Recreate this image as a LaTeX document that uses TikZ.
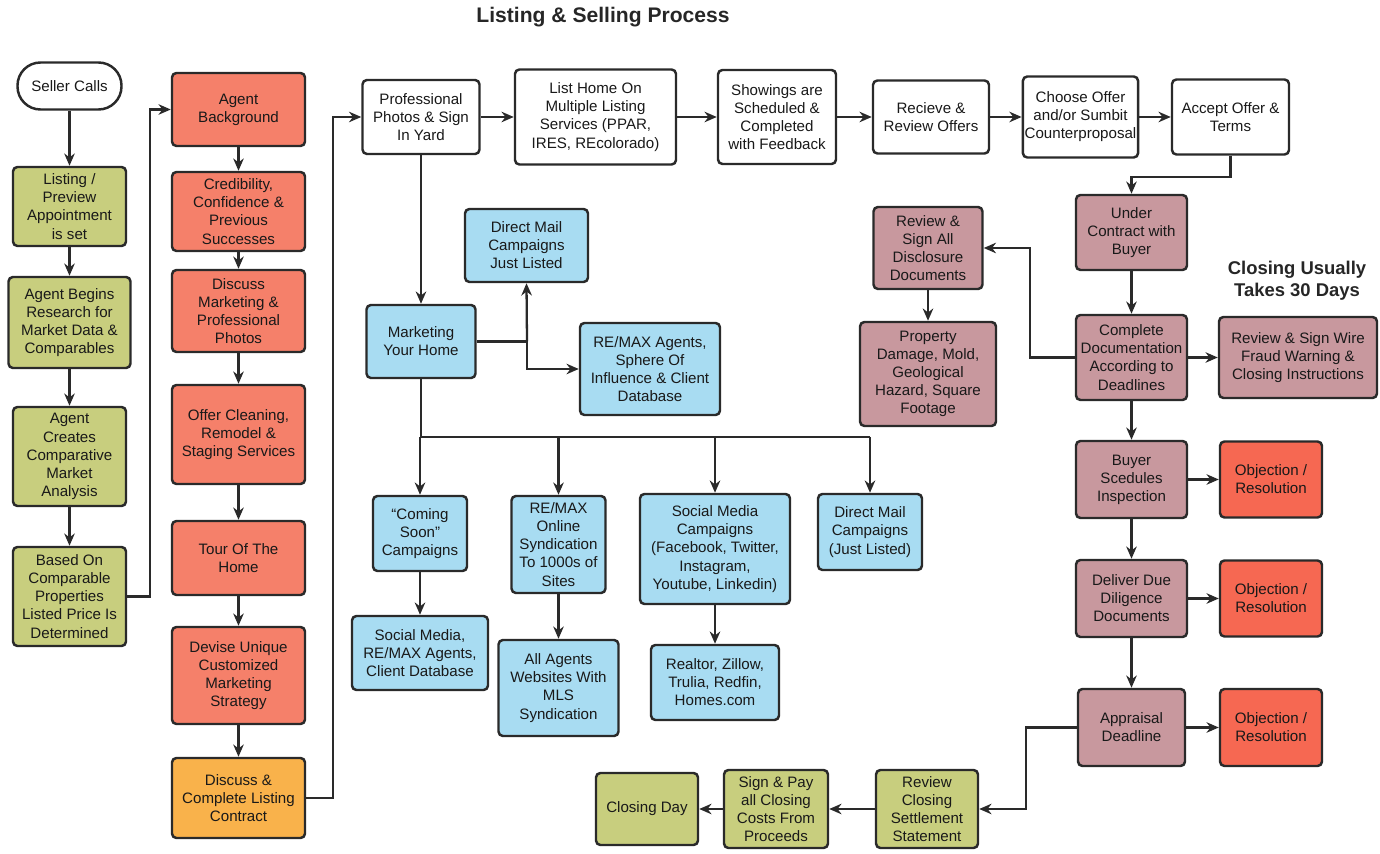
\documentclass[tikz,border=0pt]{standalone}
\usepackage{fontspec}
\setmainfont{Liberation Sans}
\usetikzlibrary{arrows.meta,positioning,calc}
\definecolor{prepgreen}{HTML}{C8CE7E}
\definecolor{agentred}{HTML}{F5806A}
\definecolor{contractorange}{HTML}{F9B24B}
\definecolor{mktblue}{HTML}{A8DCF2}
\definecolor{closemauve}{HTML}{C8989E}
\definecolor{objred}{HTML}{F66852}
\definecolor{linegray}{HTML}{2A2A2A}

\begin{document}
\begin{tikzpicture}[x=0.02cm, y=-0.02cm, line width=1.3pt, >={Stealth[length=7pt,width=6pt]},
  box/.style={draw=linegray, line width=1.4pt, rounded corners=2.5pt, align=center, inner sep=1pt, text=black!90, font=\fontsize{8.6}{10.3}\selectfont},
  wh/.style 2 args={minimum width=#1*0.02cm, minimum height=#2*0.02cm},
  start node/.style={box, fill=white, rounded corners=0.46cm},
  step node/.style={box, fill=white},
  prep node/.style={box, fill=prepgreen},
  agent node/.style={box, fill=agentred},
  contract node/.style={box, fill=contractorange},
  market node/.style={box, fill=mktblue},
  close node/.style={box, fill=closemauve},
  objection node/.style={box, fill=objred}]
\useasboundingbox (0,0) rectangle (1380,854);

\node[font=\fontsize{12}{14}\selectfont\bfseries, text=black!85] (title) at (603,17) {Listing \& Selling Process};
\node[font=\fontsize{10.5}{12.6}\selectfont\bfseries, text=black!85, align=center] (note) at (1297,281) {Closing Usually\\Takes 30 Days};

% seller preparation
\node[start node, wh={104}{47}] (seller) at (69.5,86) {Seller Calls};
\node[prep node, wh={113}{79}] (listing) at (69.5,206.5) {Listing /\\Preview\\Appointment\\is set};
\node[prep node, wh={122}{91}] (research) at (69.5,322.5) {Agent Begins\\Research for\\Market Data \&\\Comparables};
\node[prep node, wh={113}{99}] (cma) at (69.5,456.5) {Agent\\Creates\\Comparative\\Market\\Analysis};
\node[prep node, wh={113}{99}] (price) at (69.5,596.5) {Based On\\Comparable\\Properties\\Listed Price Is\\Determined};

% agent meeting
\node[agent node, wh={133}{73}] (background) at (238.5,109.5) {Agent\\Background};
\node[agent node, wh={133}{79}] (credibility) at (238.5,211.5) {Credibility,\\Confidence \&\\Previous\\Successes};
\node[agent node, wh={133}{82}] (discmkt) at (238.5,311) {Discuss\\Marketing \&\\Professional\\Photos};
\node[agent node, wh={133}{99}] (cleaning) at (238.5,434.5) {Offer Cleaning,\\Remodel \&\\Staging Services};
\node[agent node, wh={133}{74}] (tour) at (238.5,558) {Tour Of The\\Home};
\node[agent node, wh={133}{97}] (devise) at (238.5,675.5) {Devise Unique\\Customized\\Marketing\\Strategy};
\node[contract node, wh={133}{80}] (contract) at (238.5,798) {Discuss \&\\Complete Listing\\Contract};

% top row
\node[step node, wh={117}{74}] (photos) at (421,117) {Professional\\Photos \& Sign\\In Yard};
\node[step node, wh={161}{95}] (mls) at (595.5,117) {List Home On\\Multiple Listing\\Services (PPAR,\\IRES, REcolorado)};
\node[step node, wh={118}{94}] (showings) at (777,117) {Showings are\\Scheduled \&\\Completed\\with Feedback};
\node[step node, wh={116}{73}] (offers) at (931,117) {Recieve \&\\Review Offers};
\node[step node, wh={115}{81}] (counter) at (1080.5,117) {Choose Offer\\and/or Sumbit\\Counterproposal};
\node[step node, wh={117}{75}] (accept) at (1230.5,117) {Accept Offer \&\\Terms};

% marketing
\node[market node, wh={123}{73}] (mailjl) at (526.5,245.5) {Direct Mail\\Campaigns\\Just Listed};
\node[market node, wh={109}{73}] (marketing) at (421,341.5) {Marketing\\Your Home};
\node[market node, wh={140}{92}] (sphere) at (650,369) {RE/MAX Agents,\\Sphere Of\\Influence \& Client\\Database};
\node[market node, wh={94}{75}] (soon) at (420,533.5) {\textquotedblleft Coming\\Soon\textquotedblright\\Campaigns};
\node[market node, wh={94}{97}] (online) at (558.5,544.5) {RE/MAX\\Online\\Syndication\\To 1000s of\\Sites};
\node[market node, wh={150}{110}] (social) at (715,549) {Social Media\\Campaigns\\(Facebook, Twitter,\\Instagram,\\Youtube, Linkedin)};
\node[market node, wh={104}{76}] (mail) at (870,532) {Direct Mail\\Campaigns\\(Just Listed)};
\node[market node, wh={136}{74}] (socremax) at (420,653) {Social Media,\\RE/MAX Agents,\\Client Database};
\node[market node, wh={120}{96}] (allagents) at (558.5,688) {All Agents\\Websites With\\MLS\\Syndication};
\node[market node, wh={128}{75}] (realtor) at (715,682.5) {Realtor, Zillow,\\Trulia, Redfin,\\Homes.com};

% under contract
\node[close node, wh={109}{82}] (disclosure) at (928,248) {Review \&\\Sign All\\Disclosure\\Documents};
\node[close node, wh={136}{104}] (damage) at (928,374) {Property\\Damage, Mold,\\Geological\\Hazard, Square\\Footage};
\node[close node, wh={111}{75}] (undercontract) at (1131.5,232.5) {Under\\Contract with\\Buyer};
\node[close node, wh={111}{85}] (completedoc) at (1131.5,357.5) {Complete\\Documentation\\According to\\Deadlines};
\node[close node, wh={158}{81}] (wire) at (1298,357.5) {Review \& Sign Wire\\Fraud Warning \&\\Closing Instructions};
\node[close node, wh={111}{77}] (buyer) at (1131.5,479.5) {Buyer\\Scedules\\Inspection};
\node[close node, wh={111}{77}] (diligence) at (1131.5,598.5) {Deliver Due\\Diligence\\Documents};
\node[close node, wh={107}{77}] (appraisal) at (1131.5,727.5) {Appraisal\\Deadline};
\node[objection node, wh={102}{76}] (obja) at (1271,479.5) {Objection /\\Resolution};
\node[objection node, wh={102}{76}] (objb) at (1271,598.5) {Objection /\\Resolution};
\node[objection node, wh={102}{77}] (objc) at (1271,727.5) {Objection /\\Resolution};

% closing
\node[prep node, wh={102}{78}] (revclose) at (927,809) {Review\\Closing\\Settlement\\Statement};
\node[prep node, wh={104}{78}] (signpay) at (776,809) {Sign \& Pay\\all Closing\\Costs From\\Proceeds};
\node[prep node, wh={102}{72}] (closingday) at (647,809) {Closing Day};

\coordinate (loopA) at (150,0);
\coordinate (loopB) at (333,0);
\coordinate (mj) at (527,341.5);
\coordinate (trunk) at (421,437);
\coordinate (docj) at (1030,0);
\coordinate (apj) at (1026,0);

\begin{scope}[every edge/.style={draw=linegray, line width=1.3pt, ->}]
\draw (seller) edge (listing);
\draw (listing) edge (research);
\draw (research) edge (cma);
\draw (cma) edge (price);
\draw (background) edge (credibility);
\draw (credibility) edge (discmkt);
\draw (discmkt) edge (cleaning);
\draw (cleaning) edge (tour);
\draw (tour) edge (devise);
\draw (devise) edge (contract);
\draw (photos) edge (mls);
\draw (mls) edge (showings);
\draw (showings) edge (offers);
\draw (offers) edge (counter);
\draw (counter) edge (accept);
\draw (photos) edge (marketing);
\draw (soon) edge (socremax);
\draw (online) edge (allagents);
\draw (social) edge (realtor);
\draw (disclosure) edge (damage);
\draw (undercontract) edge (completedoc);
\draw (completedoc) edge (buyer);
\draw (buyer) edge (diligence);
\draw (diligence) edge (appraisal);
\draw (completedoc) edge (wire);
\draw (buyer) edge (obja);
\draw (diligence) edge (objb);
\draw (appraisal) edge (objc);
\draw (revclose) edge (signpay);
\draw (signpay) edge (closingday);
\end{scope}

\begin{scope}[draw=linegray, line width=1.3pt]
\draw[->] (price.east) -- (price.east -| loopA) |- (background.west);
\draw[->] (contract.east) -- (contract.east -| loopB) |- (photos.west);
\draw[->] (accept.south) -- ++(0,21) -| (undercontract.north);
\draw (marketing.east) -- (mj);
\draw[->] (mj) -- (mailjl.south);
\draw[->] (mj) |- (sphere.west);
\draw (marketing.south) -- (marketing.south |- trunk);
\draw (soon.north |- trunk) -- (mail.north |- trunk);
\draw[->] (soon.north |- trunk) -- (soon.north);
\draw[->] (online.north |- trunk) -- (online.north);
\draw[->] (social.north |- trunk) -- (social.north);
\draw[->] (mail.north |- trunk) -- (mail.north);
\draw[->] (completedoc.west) -- (completedoc.west -| docj) |- (disclosure.east);
\draw[->] (appraisal.west) -- (appraisal.west -| apj) |- (revclose.east);
\end{scope}
\end{tikzpicture}
\end{document}
